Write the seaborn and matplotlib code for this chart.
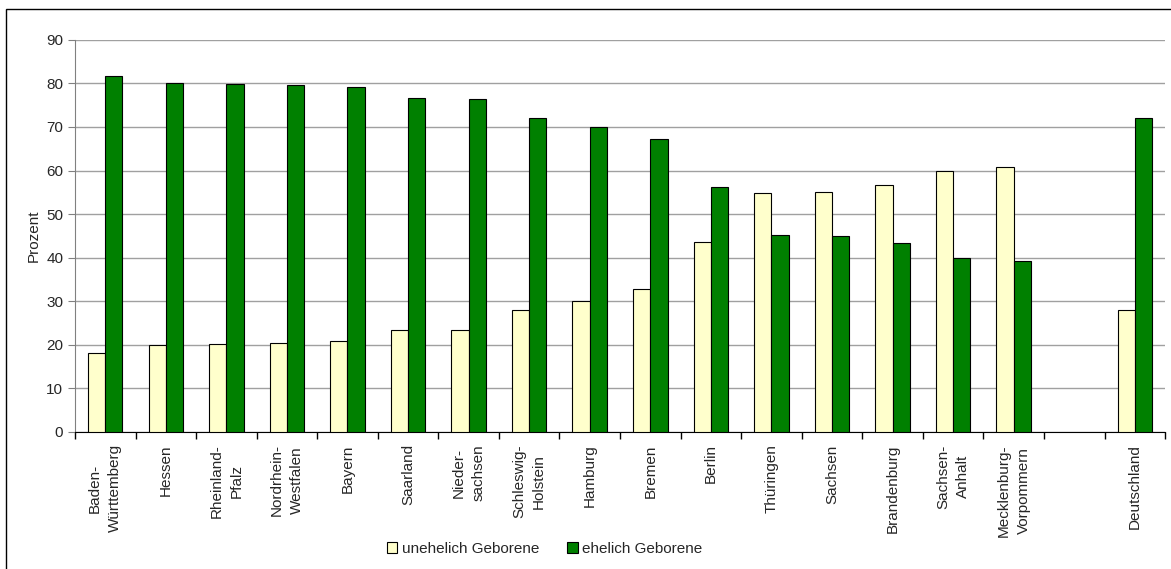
import pandas as pd
import numpy as np
import matplotlib
matplotlib.use("Agg")
import matplotlib.pyplot as plt
import seaborn as sns
from matplotlib.patches import Rectangle

# data
laender = ["Baden-\nWürttemberg", "Hessen", "Rheinland-\nPfalz", "Nordrhein-\nWestfalen",
           "Bayern", "Saarland", "Nieder-\nsachsen", "Schleswig-\nHolstein", "Hamburg",
           "Bremen", "Berlin", "Thüringen", "Sachsen", "Brandenburg", "Sachsen-\nAnhalt",
           "Mecklenburg-\nVorpommern", " ", "Deutschland"]
unehelich = [18.2, 19.9, 20.1, 20.3, 20.9, 23.4, 23.5, 28.0, 30.1, 32.8,
             43.7, 54.8, 55.0, 56.6, 60.0, 60.8, np.nan, 27.9]
ehelich = [81.8, 80.1, 79.9, 79.7, 79.1, 76.6, 76.5, 72.0, 69.9, 67.2,
           56.3, 45.2, 45.0, 43.4, 40.0, 39.2, np.nan, 72.1]
serien = ["unehelich Geborene", "ehelich Geborene"]
farben = ["#FFFFCC", "#008000"]

df = pd.DataFrame({
    "Land": laender * 2,
    "Prozent": unehelich + ehelich,
    "Art": [serien[0]] * len(laender) + [serien[1]] * len(laender),
})

sns.set_style("white")
plt.rcParams["font.family"] = ["Liberation Sans", "DejaVu Sans"]
fs = 11

fig = plt.figure(figsize=(11.71, 5.69), dpi=100)
ax = fig.add_axes([0.064, 0.241, 0.931, 0.689])

sns.barplot(data=df, x="Land", y="Prozent", hue="Art", order=laender, hue_order=serien,
            palette=farben, width=0.57, gap=0, edgecolor="black", linewidth=0.8,
            saturation=1, ax=ax, zorder=3)

ax.set_ylim(0, 90)
ax.set_xlim(-0.5, len(laender) - 0.5)
ax.set_yticks(range(0, 91, 10))
ax.yaxis.grid(True, color="#A0A0A0", linewidth=1)
ax.set_axisbelow(True)
ax.set_ylabel("Prozent", fontsize=fs, labelpad=4)
ax.set_xlabel("")
ax.tick_params(axis="y", labelsize=fs, length=5, direction="out", color="#808080", left=True)

# ticks between categories, labels at centers
ax.set_xticks(np.arange(len(laender)))
ax.set_xticklabels(laender, rotation=90, fontsize=fs, ha="center",
                   multialignment="center", linespacing=1.55)
ax.tick_params(axis="x", which="major", length=0, pad=9)
ax.set_xticks(np.arange(-0.5, len(laender), 1), minor=True)
ax.tick_params(axis="x", which="minor", bottom=True, length=5, width=1,
               direction="out", color="black")

for s in ["top", "right"]:
    ax.spines[s].set_visible(False)
ax.spines["left"].set_color("#808080")
ax.spines["bottom"].set_color("black")

handles, labels = ax.get_legend_handles_labels()
ax.legend(handles, labels, loc="center", bbox_to_anchor=(0.465, 0.035),
          bbox_transform=fig.transFigure, ncol=2, frameon=False, fontsize=fs,
          handlelength=0.7, handleheight=0.7, columnspacing=1.8, handletextpad=0.3)

# outer chart frame
fig.patches.append(Rectangle((6 / 1171, -0.01), 1.02, 1 - 9 / 569 + 0.01,
                             transform=fig.transFigure, fill=False,
                             edgecolor="black", linewidth=1))

fig.savefig("out.png", dpi=100)
